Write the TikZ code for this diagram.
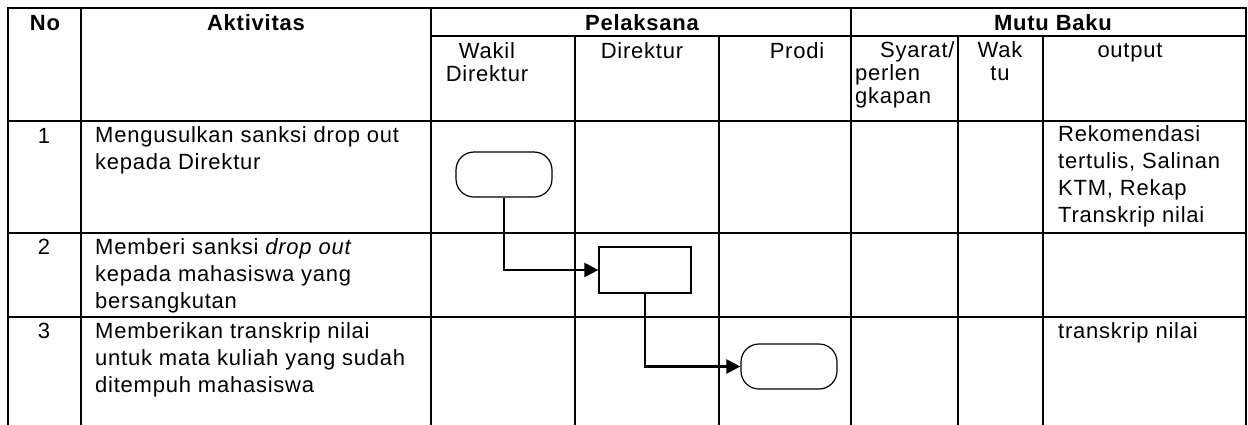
\documentclass[tikz,border=0pt]{standalone}
\usepackage{fontspec}
\setmainfont{Liberation Sans}[LetterSpace=3.5]
\usetikzlibrary{arrows.meta}
\begin{document}
\begin{tikzpicture}[x=1pt,y=-1pt,
  grid/.style={line width=1.3pt, black, line cap=rect},
  txt/.style={inner sep=0pt, font=\fontsize{22}{27}\selectfont, align=left},
  hd/.style={inner sep=0pt, font=\fontsize{22}{23}\selectfont, align=left},
  hb/.style={inner sep=0pt, font=\fontsize{22}{23}\selectfont\bfseries},
  term/.style={draw, line width=1.2pt, rounded corners=18pt, minimum width=96pt, minimum height=45pt, inner sep=0pt},
  proc/.style={draw, line width=1.2pt, minimum width=92pt, minimum height=46pt, inner sep=0pt},
  flow/.style={line width=2.2pt, -{Triangle[length=14pt,width=14pt]}}]
\useasboundingbox (0,0) rectangle (1248,424);
% table rules
\draw[grid] (8,8) -- (1246,8);
\draw[grid] (431,36) -- (1246,36);
\draw[grid] (8,121) -- (1246,121);
\draw[grid] (8,233) -- (1246,233);
\draw[grid] (8,317) -- (1246,317);
\draw[grid] (8,8) -- (8,424);
\draw[grid] (81,8) -- (81,424);
\draw[grid] (431,8) -- (431,424);
\draw[grid] (575,36) -- (575,424);
\draw[grid] (719,36) -- (719,424);
\draw[grid] (851,8) -- (851,424);
\draw[grid] (958,36) -- (958,424);
\draw[grid] (1043,36) -- (1043,424);
\draw[grid] (1246,8) -- (1246,424);
% header (multi-line nodes are placed by the baseline of their last line)
\node[hb, anchor=base] (hNo) at (45,30) {No};
\node[hb, anchor=base] (hAkt) at (256,30) {Aktivitas};
\node[hb, anchor=base] (hPel) at (642,30) {Pelaksana};
\node[hb, anchor=base] (hMutu) at (1053,30) {Mutu Baku};
\node[hd, anchor=base, align=center] (hWakil) at (487,81) {Wakil\\Direktur};
\node[hd, anchor=base] (hDir) at (642,58) {Direktur};
\node[hd, anchor=base] (hProdi) at (797,58) {Prodi};
\node[hd, anchor=base west] (hSy1) at (880,57) {Syarat/};
\node[hd, anchor=base west] (hSy2) at (855,103) {perlen\\gkapan};
\node[hd, anchor=base, align=center] (hWaktu) at (1000,80) {Wak\\tu};
\node[hd, anchor=base] (hOut) at (1130,57) {output};
% rows
\node[txt, anchor=base] (n1) at (44,143) {1};
\node[txt, anchor=base] (n2) at (44,254) {2};
\node[txt, anchor=base] (n3) at (44,338) {3};
\node[txt, anchor=base west] (a1) at (95,169) {Mengusulkan sanksi drop out\\kepada Direktur};
\node[txt, anchor=base west] (a2) at (95,308) {Memberi sanksi \textit{drop out}\\kepada mahasiswa yang\\bersangkutan};
\node[txt, anchor=base west] (a3) at (95,392) {Memberikan transkrip nilai\\untuk mata kuliah yang sudah\\ditempuh mahasiswa};
\node[txt, anchor=base west] (o1) at (1058,222) {Rekomendasi\\tertulis, Salinan\\KTM, Rekap\\Transkrip nilai};
\node[txt, anchor=base west] (o3) at (1058,338) {transkrip nilai};
% flow
\node[term] (t1) at (504,174.5) {};
\node[proc] (p1) at (645,270) {};
\node[term] (t2) at (789,366.5) {};
\draw[flow] (t1.south) |- (p1.west);
\draw[flow] (p1.south) |- (t2.west);
\end{tikzpicture}
\end{document}
